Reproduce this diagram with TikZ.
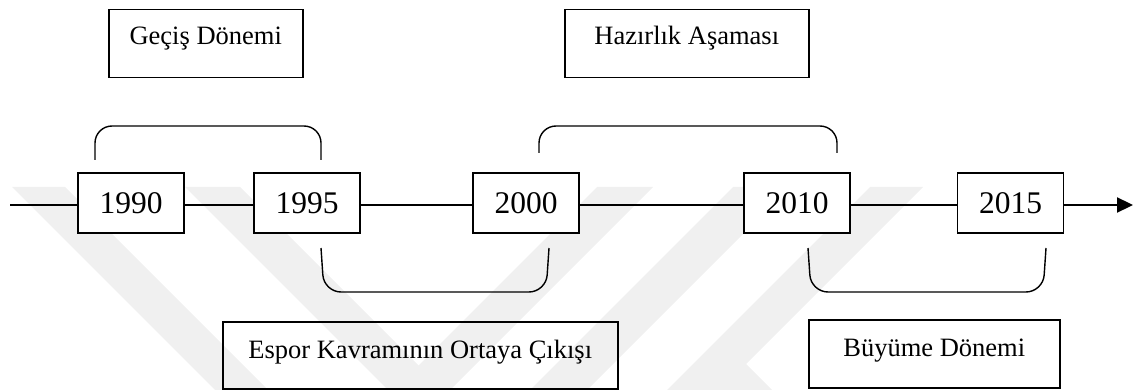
\documentclass[tikz,border=0pt]{standalone}
\usepackage{fontspec}
\setmainfont{Liberation Serif}
\usetikzlibrary{arrows.meta}
\tikzset{
  yearbox/.style={draw, line width=1.5pt, minimum width=106pt, minimum height=60pt, inner sep=0pt, font=\fontsize{31.5}{36}\selectfont, fill=white},
  labbox/.style={draw, line width=1.5pt, inner sep=0pt, anchor=north west},
  labtext/.style={anchor=base, inner sep=0pt, font=\fontsize{26.5}{30}\selectfont},
  tline/.style={line width=2.2pt},
  brace/.style={line width=1.4pt, rounded corners=17pt},
  wm/.style={fill=black!6, draw=none}
}
\begin{document}
\begin{tikzpicture}[x=1pt,y=-1pt]
\useasboundingbox (0,0) rectangle (1134,390);
% faint watermark
\begin{scope}
\clip (0,0) rectangle (1134,390);
\fill[wm] (12,187) -- (65,187) -- (268,390) -- (215,390) -- cycle;
\fill[wm] (185,187) -- (240,187) -- (443,390) -- (388,390) -- cycle;
\fill[wm] (597,187) -- (653,187) -- (450,390) -- (394,390) -- cycle;
\fill[wm] (733,187) -- (790,187) -- (587,390) -- (530,390) -- cycle;
\fill[wm] (870,187) -- (923,187) -- (720,390) -- (667,390) -- cycle;
\fill[wm] (743,361) -- (772,390) -- (714,390) -- cycle;
\end{scope}
% label boxes
\node[labbox, minimum width=194pt, minimum height=68pt] (gbox) at (108,9) {};
\node[labtext] (gtext) at ([yshift=-36pt]gbox.north) {Geçiş Dönemi};
\node[labbox, minimum width=244pt, minimum height=68pt] (hbox) at (564,9) {};
\node[labtext] (htext) at ([yshift=-36pt]hbox.north) {Hazırlık Aşaması};
\node[labbox, minimum width=395pt, minimum height=67pt] (ebox) at (222,321) {};
\node[labtext] (etext) at ([yshift=-37pt]ebox.north) {Espor Kavramının Ortaya Çıkışı};
\node[labbox, minimum width=251pt, minimum height=68pt] (bbox) at (808,319) {};
\node[labtext] (btext) at ([yshift=-37pt]bbox.north) {Büyüme Dönemi};
% year boxes
\node[yearbox] (y1990) at (131,203) {1990};
\node[yearbox] (y1995) at (307,203) {1995};
\node[yearbox] (y2000) at (526,203) {2000};
\node[yearbox] (y2010) at (797,203) {2010};
\node[yearbox] (y2015) at (1010.5,203) {2015};
% timeline
\coordinate (start) at (10,205);
\coordinate (tip) at (1133,205);
\draw[tline] (start) -- (y1990.west |- start);
\draw[tline] (y1990.east |- start) -- (y1995.west |- start);
\draw[tline] (y1995.east |- start) -- (y2000.west |- start);
\draw[tline] (y2000.east |- start) -- (y2010.west |- start);
\draw[tline] (y2010.east |- start) -- (y2015.west |- start);
\draw[tline, -{Triangle[length=16pt,width=15pt]}] (y2015.east |- start) -- (tip);
% brackets
\draw[brace] (95,160) -- (95,126) -- (321,126) -- (321,160);
\draw[brace] (539,153) -- (539,126) -- (837,126) -- (837,153);
\draw[brace] (321,248) -- (324,292) -- (546,292) -- (549,248);
\draw[brace] (808,248) -- (811,292) -- (1043,292) -- (1046,248);
\end{tikzpicture}
\end{document}
